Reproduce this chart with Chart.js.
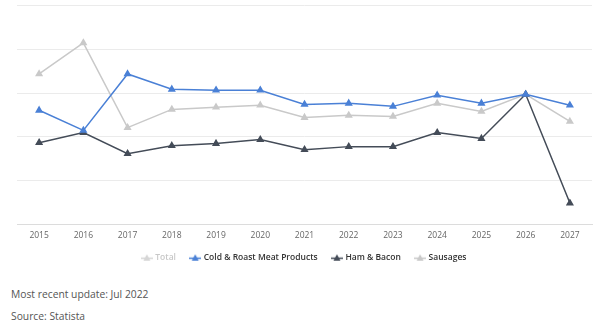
<!DOCTYPE html>
<html lang="en">
<head>
<meta charset="UTF-8">
<title>Meat products</title>
<script src="https://cdn.jsdelivr.net/npm/chart.js"></script>
<style>
  body { margin: 0; background: #fff; font-family: "Open Sans", sans-serif; }
  #wrap { position: relative; width: 600px; height: 272px; }
  .note { position: absolute; left: 11px; font-size: 10.3px; color: #555; }
</style>
</head>
<body>
<div id="wrap"><canvas id="chart"></canvas></div>
<div class="note" style="top:287px">Most recent update: Jul 2022</div>
<div class="note" style="top:309px">Source: Statista</div>
<script>
// categories
const years = ['2015','2016','2017','2018','2019','2020','2021','2022','2023','2024','2025','2026','2027'];

// series values (no y labels shown, read in gridline units)
const total = [];
const coldRoast = [1.21, 0.29, 2.87, 2.17, 2.13, 2.13, 1.48, 1.53, 1.39, 1.90, 1.53, 1.94, 1.44];
const hamBacon = [-0.27, 0.19, -0.77, -0.41, -0.31, -0.13, -0.59, -0.45, -0.45, 0.19, -0.08, 1.94, -3.03];
const sausages = [2.87, 4.29, 0.42, 1.25, 1.35, 1.44, 0.88, 0.98, 0.93, 1.53, 1.16, 1.94, 0.70];

const colors = {
  total: '#cfcfcf',
  cold: '#4a80d6',
  ham: '#444c58',
  sausage: '#c9c9c9'
};

// how far to pull the legend up (x axis gets the room)
const LEGEND_SHIFT = 8;

// small legend icon: line with a triangle on it
function legendIcon(color) {
  const c = document.createElement('canvas');
  c.width = 12; c.height = 8;
  const g = c.getContext('2d');
  g.strokeStyle = color; g.lineWidth = 1.5;
  g.beginPath(); g.moveTo(0, 4.5); g.lineTo(12, 4.5); g.stroke();
  g.fillStyle = color;
  g.beginPath(); g.moveTo(6, 0.5); g.lineTo(9.5, 7); g.lineTo(2.5, 7); g.closePath(); g.fill();
  return c;
}

function series(label, data, color, hidden) {
  return {
    label: label,
    data: data,
    borderColor: color,
    backgroundColor: color,
    borderWidth: 1.5,
    pointStyle: 'triangle',
    pointRadius: 3.2,
    pointHoverRadius: 4,
    tension: 0,
    hidden: !!hidden
  };
}

const legendPull = {
  id: 'legendPull',
  beforeInit(chart) {
    const fit = chart.legend.fit;
    chart.legend.fit = function () {
      fit.call(this);
      this.height -= LEGEND_SHIFT;
    };
  },
  afterLayout(chart) {
    chart.legend.top -= LEGEND_SHIFT;
    chart.legend.bottom -= LEGEND_SHIFT;
  }
};

new Chart(document.getElementById('chart'), {
  type: 'line',
  data: {
    labels: years,
    datasets: [
      series('Total', total, colors.total, true),
      series('Cold & Roast Meat Products', coldRoast, colors.cold),
      series('Ham & Bacon', hamBacon, colors.ham),
      series('Sausages', sausages, colors.sausage)
    ]
  },
  options: {
    responsive: true,
    maintainAspectRatio: false,
    animation: false,
    layout: { padding: { left: 17, right: 8, top: 4, bottom: 0 } },
    scales: {
      x: {
        offset: true,
        grid: { display: false, drawTicks: false },
        border: { color: '#dcdcdc' },
        ticks: { color: '#666', font: { family: 'Open Sans', size: 8.5 }, padding: 6, maxRotation: 0 }
      },
      y: {
        min: -4,
        max: 6,
        ticks: { stepSize: 2, display: false },
        grid: { color: '#ebebeb', drawTicks: false },
        border: { display: false }
      }
    },
    plugins: {
      legend: {
        position: 'bottom',
        labels: {
          usePointStyle: true,
          padding: 15,
          font: { family: 'Open Sans', size: 8.5, weight: '600' },
          generateLabels: function (chart) {
            return chart.data.datasets.map(function (ds, i) {
              const hidden = !chart.isDatasetVisible(i);
              return {
                text: ds.label,
                pointStyle: legendIcon(hidden ? '#d6d6d6' : ds.borderColor),
                fontColor: hidden ? '#c8c8c8' : '#333',
                hidden: false,
                datasetIndex: i,
                lineWidth: 0
              };
            });
          }
        }
      },
      tooltip: { enabled: false }
    }
  },
  plugins: [legendPull]
});
</script>
</body>
</html>
